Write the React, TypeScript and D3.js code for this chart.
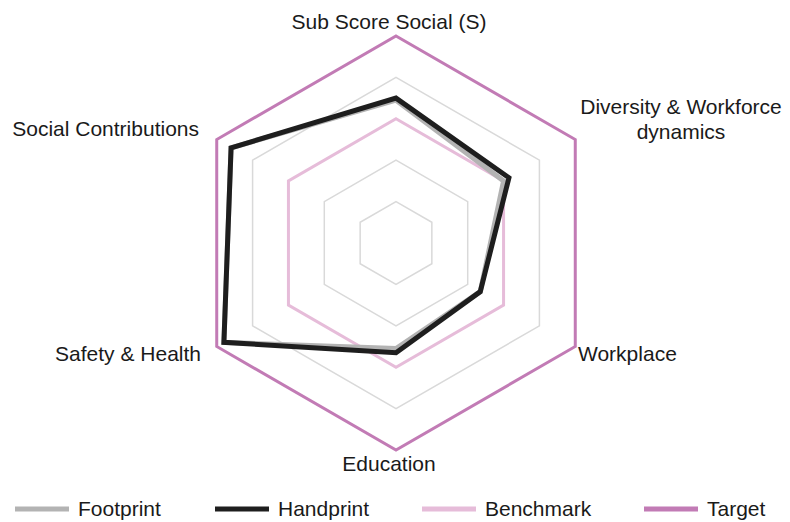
import React from "react";
import * as d3 from "d3";

const axes = ["Sub Score Social (S)", "Diversity & Workforce dynamics", "Workplace", "Education", "Safety & Health", "Social Contributions"];
const footprint = [0.69, 0.6, 0.47, 0.51, 0.96, 0.92];
const handprint = [0.70, 0.63, 0.47, 0.53, 0.96, 0.92];
const benchmark = [0.6, 0.6, 0.6, 0.6, 0.6, 0.6];
const target = [1, 1, 1, 1, 1, 1];
const gridLevels = [0.2, 0.4, 0.6, 0.8];

const seriesNames = ["Footprint", "Handprint", "Benchmark", "Target"];
const seriesColors = ["#b3b3b3", "#1e1e1e", "#e6bcd9", "#c27bb5"];

export default function App() {
  const W = 790, H = 522;
  const cx = 396, cy = 243, R = 207;
  const r = d3.scaleLinear().domain([0, 1]).range([0, R]);
  const angle = (i: number) => (i * 2 * Math.PI) / axes.length;
  const line = d3
    .lineRadial<number>()
    .angle((_, i) => angle(i))
    .radius((d) => r(d))
    .curve(d3.curveLinearClosed);

  const series = [
    { name: "Target", data: target, color: seriesColors[3], w: 3 },
    { name: "Benchmark", data: benchmark, color: seriesColors[2], w: 3 },
    { name: "Footprint", data: footprint, color: seriesColors[0], w: 5 },
    { name: "Handprint", data: handprint, color: seriesColors[1], w: 5 },
  ];

  const font = "'Liberation Sans', Arial, sans-serif";
  const labelPos: { x: number; y: number; anchor: string; lines: string[] }[] = [
    { x: 389, y: 29, anchor: "middle", lines: ["Sub Score Social (S)"] },
    { x: 681, y: 114, anchor: "middle", lines: ["Diversity & Workforce", "dynamics"] },
    { x: 578, y: 361, anchor: "start", lines: ["Workplace"] },
    { x: 389, y: 471, anchor: "middle", lines: ["Education"] },
    { x: 201, y: 361, anchor: "end", lines: ["Safety & Health"] },
    { x: 199, y: 136, anchor: "end", lines: ["Social Contributions"] },
  ];

  const legendX = [15, 215, 422, 644];

  return (
    <svg width={W} height={H} style={{ position: "absolute", left: 0, top: 0, background: "#fff" }}>
      <g transform={`translate(${cx},${cy})`}>
        {gridLevels.map((lv) => (
          <path key={lv} d={line(axes.map(() => lv)) || ""} fill="none" stroke="#d9d9d9" strokeWidth={1.5} />
        ))}
        {series.map((s) => (
          <path key={s.name} d={line(s.data) || ""} fill="none" stroke={s.color} strokeWidth={s.w} strokeLinejoin="miter" />
        ))}
      </g>
      {labelPos.map((l, i) => (
        <text key={i} x={l.x} y={l.y} textAnchor={l.anchor as any} fontFamily={font} fontSize={21} fill="#1a1a1a">
          {l.lines.map((t, j) => (
            <tspan key={j} x={l.x} dy={j === 0 ? 0 : 25}>
              {t}
            </tspan>
          ))}
        </text>
      ))}
      {seriesNames.map((n, i) => (
        <g key={n}>
          <line x1={legendX[i]} x2={legendX[i] + 54} y1={509} y2={509} stroke={seriesColors[i]} strokeWidth={5} />
          <text x={legendX[i] + 63} y={516} fontFamily={font} fontSize={21} fill="#1a1a1a">
            {n}
          </text>
        </g>
      ))}
    </svg>
  );
}
